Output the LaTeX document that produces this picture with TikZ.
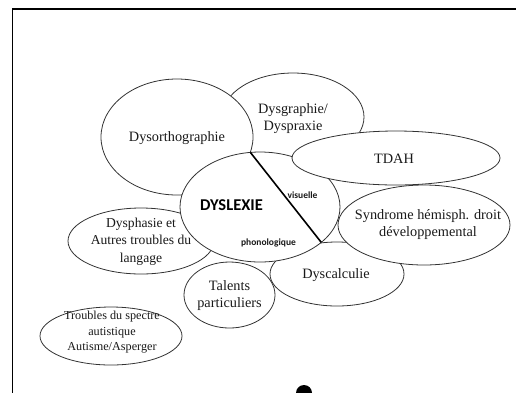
\documentclass[tikz,border=0pt]{standalone}
\usepackage{fontspec}
\setmainfont{Liberation Serif}
\newfontfamily\carl{Carlito}
\usetikzlibrary{shapes.geometric}
\begin{document}
\begin{tikzpicture}[x=1pt,y=-1pt,
  blob/.style={ellipse, draw=black!80, line width=0.8pt, fill=white, inner sep=0pt, outer sep=0pt},
  lbl/.style={font=\fontsize{14.3}{17.5}\selectfont, align=center, inner sep=0pt, text=black!90},
  midlbl/.style={font=\fontsize{13.6}{17.5}\selectfont, align=center, inner sep=0pt, text=black!90},
  smalllbl/.style={font=\fontsize{12.2}{15.5}\selectfont, align=center, inner sep=0pt, text=black!90},
  sanslbl/.style={font=\carl\bfseries\fontsize{9.5}{11}\selectfont, inner sep=0pt, text=black!90}]
\useasboundingbox (0,0) rectangle (516,392);
\begin{scope}
  \clip (0,0) rectangle (516,392);
  \draw[line width=1.8pt] (12.5,9) rectangle (560,430);
  \fill (304,393) circle (8);
\end{scope}
% ellipses with their texts, back to front
\node[blob, minimum width=142pt, minimum height=88pt] (dysgra) at (293,117) {};
\node[lbl] (tdysgra) at (293,118.5) {Dysgraphie/\\Dyspraxie};
\node[blob, minimum width=152pt, minimum height=116pt] (dysortho) at (177,137) {};
\node[lbl] (tdysortho) at (177,138) {Dysorthographie};
\node[blob, minimum width=134pt, minimum height=64pt] (dyscal) at (337,274) {};
\node[lbl] (tdyscal) at (336,275) {Dyscalculie};
\node[blob, minimum width=146pt, minimum height=66pt] (dysph) at (141,241) {};
\node[midlbl] (tdysph) at (141,241.5) {Dysphasie et\\Autres troubles du\\langage};
\node[blob, minimum width=160pt, minimum height=110pt] (dys) at (260,207) {};
\draw[line width=1.6pt] (dys.100) -- (dys.-30);
\node[font=\carl\bfseries\fontsize{16.5}{18}\selectfont, inner sep=0pt] (tdys) at (231.5,205) {DYSLEXIE};
\node[sanslbl] (tvis) at (302.5,195) {visuelle};
\node[sanslbl] (tphon) at (268.5,243) {phonologique};
\node[blob, minimum width=208pt, minimum height=54pt] (tdah) at (396,158) {};
\node[lbl] (ttdah) at (394,159) {TDAH};
\node[blob, minimum width=172pt, minimum height=80pt] (synd) at (424,225) {};
\node[lbl] (tsynd) at (428,224.5) {Syndrome hémisph. droit\\développemental};
\node[blob, minimum width=91pt, minimum height=66pt] (tal) at (229.5,295) {};
\node[lbl] (ttal) at (229.5,295.5) {Talents\\particuliers};
\node[blob, minimum width=142pt, minimum height=58pt] (tsa) at (111,336) {};
\node[smalllbl] (ttsa) at (112,332.5) {Troubles du spectre\\autistique\\Autisme/Asperger};
\end{tikzpicture}
\end{document}
